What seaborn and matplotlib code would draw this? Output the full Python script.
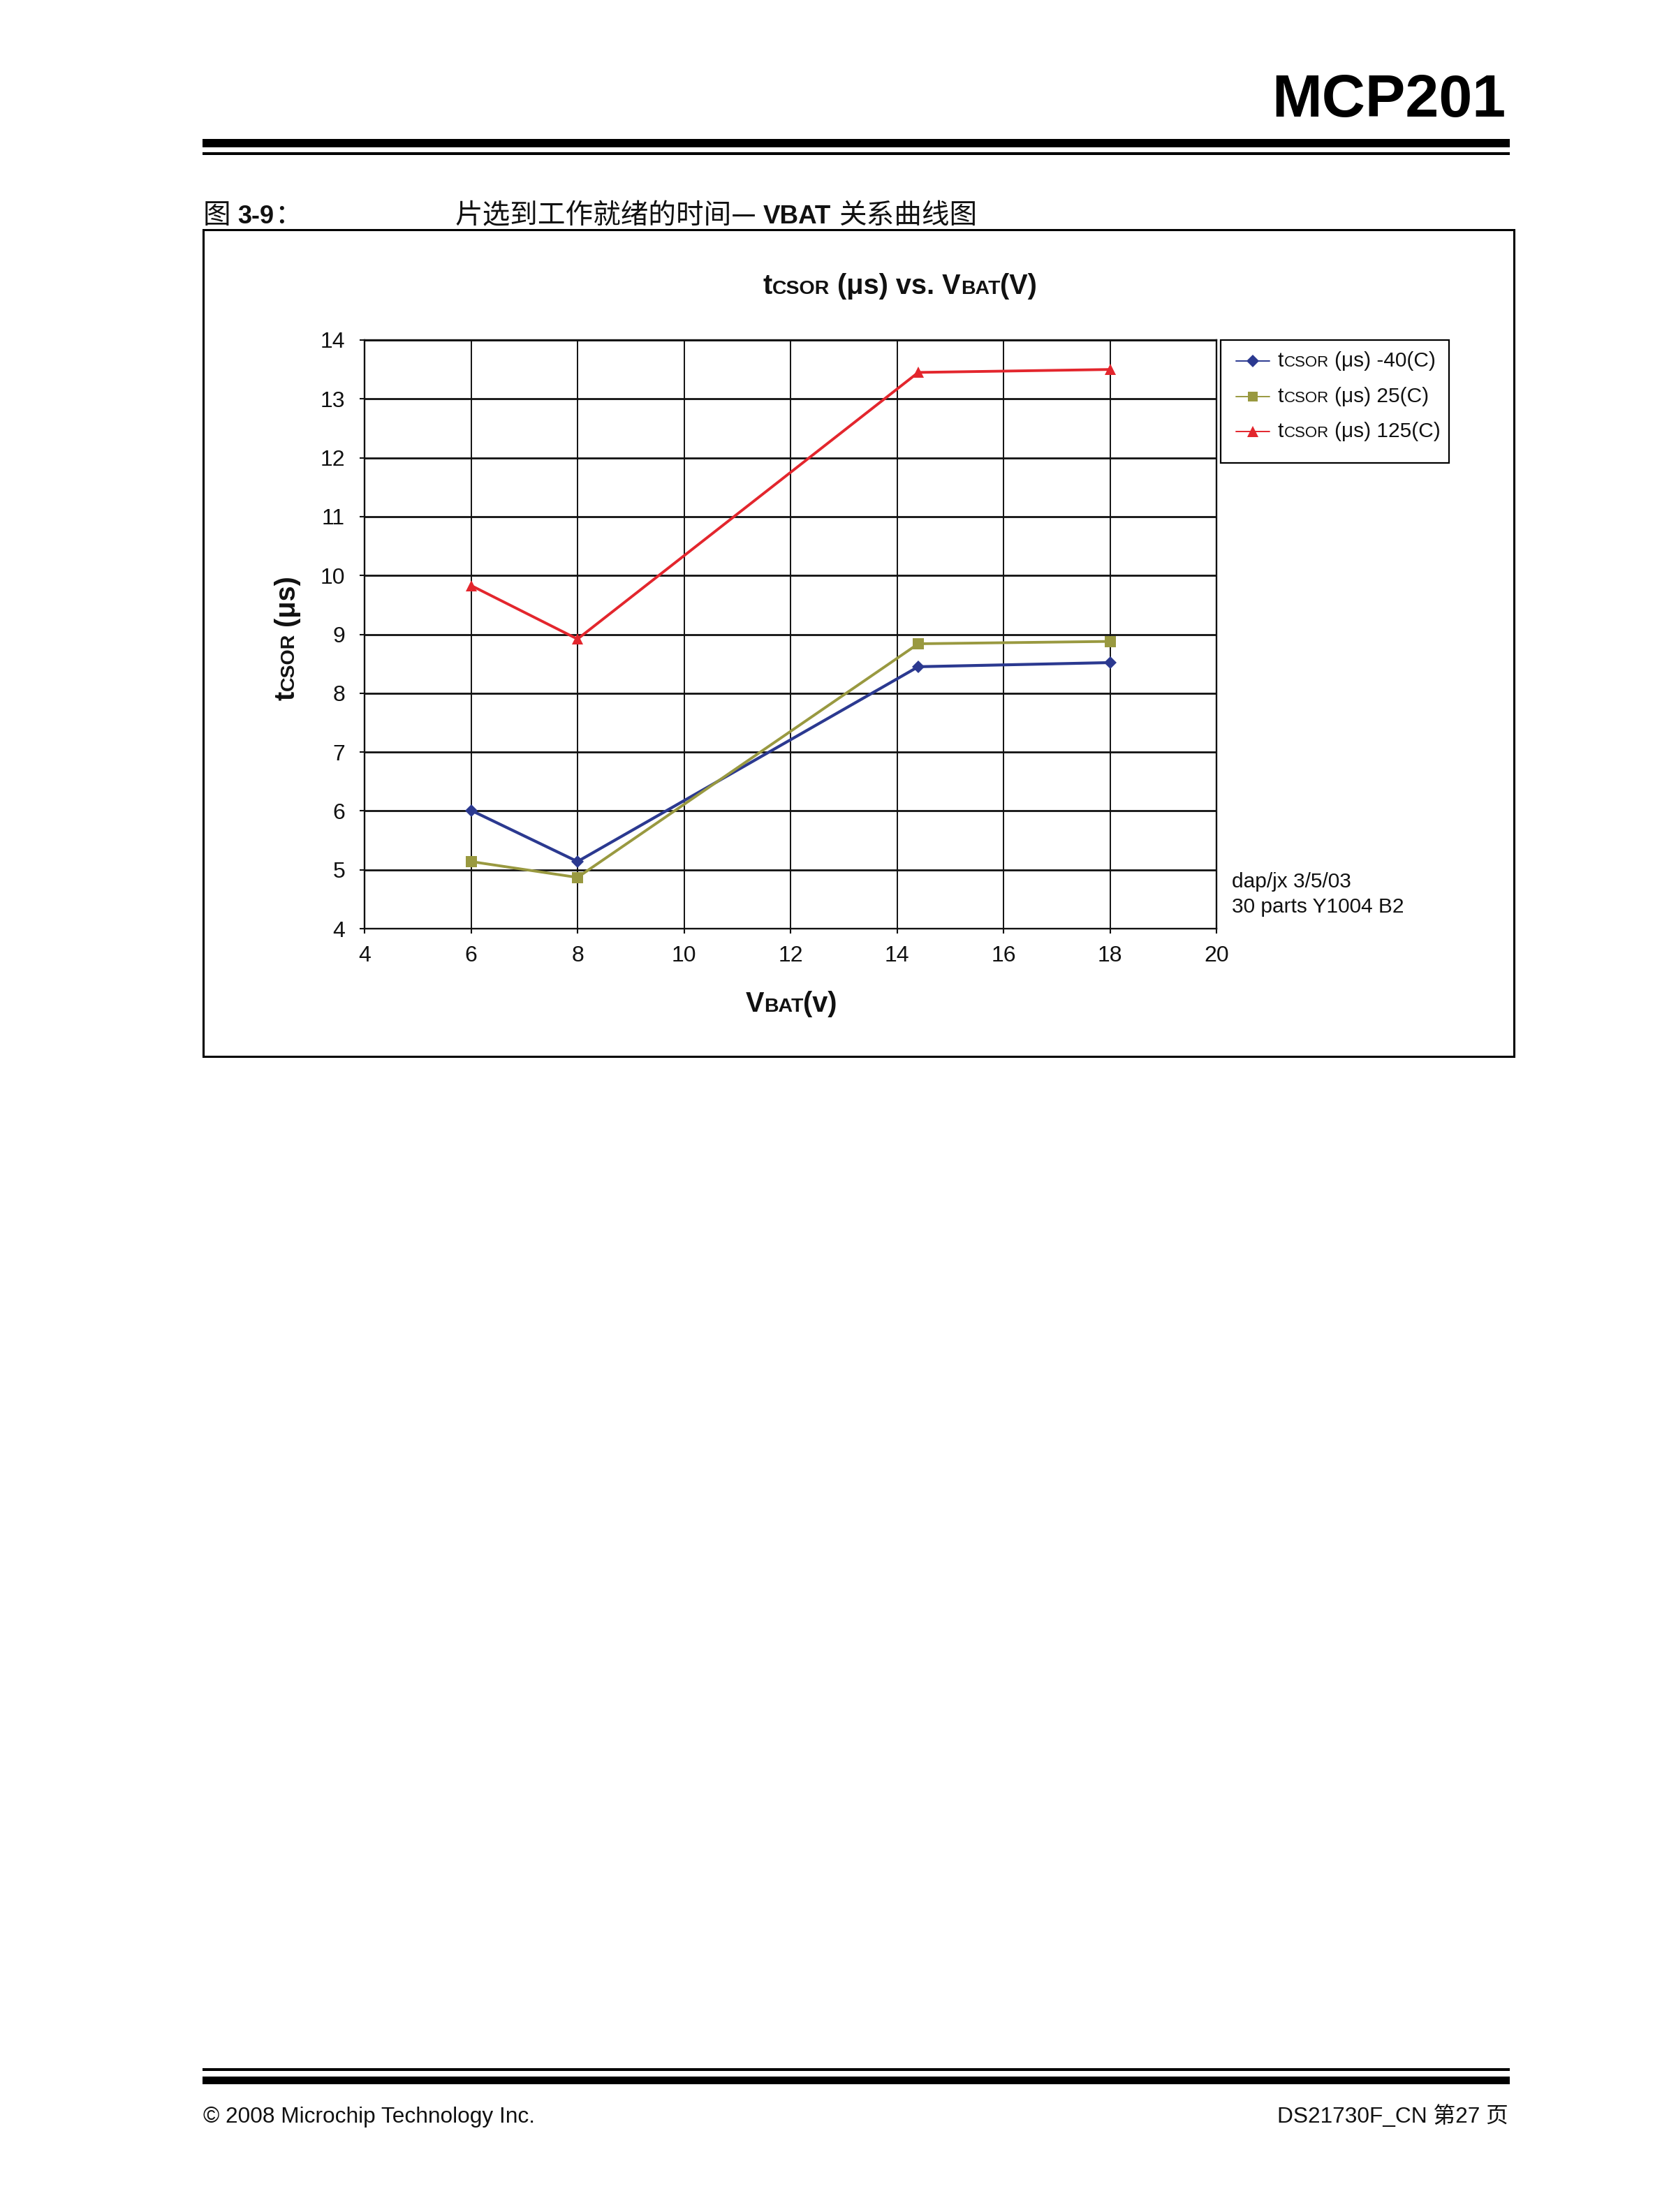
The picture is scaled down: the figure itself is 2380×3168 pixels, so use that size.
import numpy as np
import pandas as pd
import matplotlib
matplotlib.use('Agg')
import matplotlib.pyplot as plt
from matplotlib.patches import Rectangle
from matplotlib.lines import Line2D
import seaborn as sns

# data
vbat = [6, 8, 14.4, 18]
t_minus40 = [6.01, 5.14, 8.45, 8.52]
t_25 = [5.14, 4.87, 8.84, 8.88]
t_125 = [9.83, 8.92, 13.45, 13.50]
series_names = ['-40(C)', '25(C)', '125(C)']
x_ticks = [4, 6, 8, 10, 12, 14, 16, 18, 20]
y_ticks = [4, 5, 6, 7, 8, 9, 10, 11, 12, 13, 14]

colors = {'-40(C)': '#2B3990', '25(C)': '#999940', '125(C)': '#E3262D'}
markers = {'-40(C)': 'D', '25(C)': 's', '125(C)': '^'}
msizes = {'-40(C)': 9.5, '25(C)': 11, '125(C)': 12}
lwidths = {'-40(C)': 3.0, '25(C)': 2.8, '125(C)': 2.8}

W, H = 2380, 3168
LAT = ['Liberation Sans', 'DejaVu Sans']
CJK = ['Noto Sans CJK SC', 'DejaVu Sans']
INK = '#111111'

sns.set_style('white')
plt.rcParams['font.family'] = LAT
plt.rcParams['text.color'] = INK

fig = plt.figure(figsize=(W / 100, H / 100), dpi=100)
renderer = fig.canvas.get_renderer()


def fx(x):
    return x / W


def fy(y):
    return 1 - y / H


def rect(x0, y0, x1, y1, fill=True, lw=0):
    fig.patches.append(Rectangle((fx(x0), fy(y1)), fx(x1) - fx(x0), fy(y0) - fy(y1),
                                 transform=fig.transFigure, facecolor='black' if fill else 'none',
                                 edgecolor='black', linewidth=lw, zorder=5))


def rich(x, y, parts, ha='left', rotation=0):
    # parts: (text, size_pt, weight, family, leading_spaces)
    texts = []
    pos = 0.0
    for s, size, weight, fam, lead in parts:
        pos += lead * 0.278 * size / 72 * 100
        t = fig.text(0, 0, s, fontsize=size, fontweight=weight, family=fam,
                     ha='left', va='baseline', rotation=rotation, rotation_mode='anchor',
                     color=INK)
        ext = t.get_window_extent(renderer)
        w = ext.height if rotation == 90 else ext.width
        texts.append((t, pos))
        pos += w
    shift = {'left': 0, 'center': pos / 2, 'right': pos}[ha]
    for t, p in texts:
        if rotation == 90:
            t.set_position((fx(x), fy(y - (p - shift))))
        else:
            t.set_position((fx(x + p - shift), fy(y)))


# page header
fig.text(fx(2156), fy(167), 'MCP201', fontsize=62, fontweight='bold', ha='right',
         va='baseline', family=LAT, color='black')
rect(290, 199, 2162, 211)
rect(290, 218, 2162, 222)

# caption
rich(291, 320, [('图', 28.5, 'normal', CJK, 0), ('3-9', 26, 'bold', LAT, 1),
                ('：', 28.5, 'normal', CJK, 0)])
rich(651, 320, [('片选到工作就绪的时间—', 28.5, 'normal', CJK, 0),
                ('VBAT', 26.5, 'bold', LAT, 1),
                ('关系曲线图', 28.5, 'normal', CJK, 1)])

# chart frame
rect(291, 329, 2168, 1513, fill=False, lw=2.2)

# plot
df = pd.DataFrame({
    'vbat': vbat * 3,
    'tcsor': t_minus40 + t_25 + t_125,
    'series': [s for s in series_names for _ in vbat],
})

ax = fig.add_axes([fx(522), fy(1330), fx(1742) - fx(522), fy(487) - fy(1330)])
for name in series_names:
    sub = df[df['series'] == name]
    sns.lineplot(data=sub, x='vbat', y='tcsor', color=colors[name], marker=markers[name],
                 markersize=msizes[name], markeredgecolor=colors[name], markeredgewidth=0,
                 linewidth=lwidths[name], ax=ax, legend=False, zorder=4)

ax.set_xlim(4, 20)
ax.set_ylim(4, 14)
ax.set_xticks(x_ticks)
ax.set_yticks(y_ticks)
ax.set_xlabel('')
ax.set_ylabel('')
ax.grid(False)
for yv in y_ticks:
    ax.axhline(yv, color=INK, lw=2.0, zorder=1)
for xv in x_ticks:
    ax.axvline(xv, color=INK, lw=1.4, zorder=1)
for sp in ax.spines.values():
    sp.set_color(INK)
    sp.set_linewidth(1.7)
ax.tick_params(axis='both', direction='out', length=5, width=1.5, color=INK,
               labelsize=23, labelcolor=INK)
ax.tick_params(axis='y', pad=15, left=True)
ax.tick_params(axis='x', pad=12, bottom=True)

# titles
rich(1289, 421, [('t', 28.5, 'bold', LAT, 0), ('CSOR', 20.5, 'bold', LAT, 0),
                 ('(μs) vs. V', 28.5, 'bold', LAT, 1), ('BAT', 20.5, 'bold', LAT, 0),
                 ('(V)', 28.5, 'bold', LAT, 0)], ha='center')
rich(1133, 1449, [('V', 28.5, 'bold', LAT, 0), ('BAT', 20.5, 'bold', LAT, 0),
                  ('(v)', 28.5, 'bold', LAT, 0)], ha='center')
rich(421, 913, [('t', 28.5, 'bold', LAT, 0), ('CSOR', 20.5, 'bold', LAT, 0),
                ('(μs)', 28.5, 'bold', LAT, 1)], ha='center', rotation=90)

# legend
rect(1748, 487, 2075, 663, fill=False, lw=1.6)
for i, name in enumerate(series_names):
    yc = 517 + i * 50.5
    fig.add_artist(Line2D([fx(1770), fx(1818)], [fy(yc), fy(yc)], color=colors[name],
                          lw=1.4, transform=fig.transFigure))
    fig.add_artist(Line2D([fx(1794)], [fy(yc)], color=colors[name], marker=markers[name],
                          markersize=msizes[name] - 0.5, markeredgewidth=0,
                          transform=fig.transFigure))
    rich(1830, yc + 8, [('t', 21.5, 'normal', LAT, 0), ('CSOR', 16, 'normal', LAT, 0),
                        ('(μs) ' + name, 21.5, 'normal', LAT, 1)])

# note
fig.text(fx(1764), fy(1271), 'dap/jx 3/5/03', fontsize=21.5, family=LAT, va='baseline',
         color=INK)
fig.text(fx(1764), fy(1307), '30 parts Y1004 B2', fontsize=21.5, family=LAT, va='baseline',
         color=INK)

# page footer
rect(290, 2962, 2162, 2966)
rect(290, 2974, 2162, 2985)
fig.text(fx(291), fy(3040), '© 2008 Microchip Technology Inc.', fontsize=22.8, family=LAT,
         va='baseline', color=INK)
fig.text(fx(2160), fy(3040), 'DS21730F_CN 第27 页', fontsize=22.8,
         family=['Liberation Sans', 'Noto Sans CJK SC'], va='baseline', ha='right', color=INK)

fig.savefig('out.png', dpi=100)
